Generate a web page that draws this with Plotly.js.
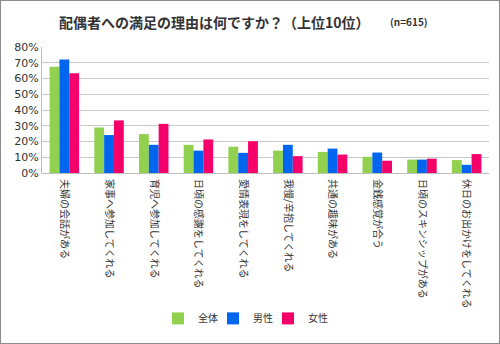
<!DOCTYPE html>
<html><head><meta charset="utf-8">
<script src="https://cdn.plot.ly/plotly-3.0.1.min.js"></script>
<style>
html,body{margin:0;padding:0;background:#fff;}
#wrap{position:relative;width:500px;height:344px;}
#chart{width:500px;height:344px;}
#frame{position:absolute;left:0;top:0;width:498px;height:342px;border:1px solid #8c8c8c;pointer-events:none;}
</style></head>
<body><div id="wrap"><div id="chart"></div><div id="frame"></div></div>
<script>
const categories = ["夫婦の会話がある","家事へ参加してくれる","育児へ参加してくれる","日頃の感謝をしてくれる","愛情表現をしてくれる","我慢/辛抱してくれる","共通の趣味がある","金銭感覚が合う","日頃のスキンシップがある","休日のお出かけをしてくれる"];
const seriesNames = ["全体","男性","女性"];
const allValues = [67.4,28.9,24.7,17.9,16.7,14.2,13.4,10.3,8.5,8.2];
const maleValues = [72.0,24.1,17.9,14.2,12.8,17.9,15.5,13.0,8.5,5.2];
const femaleValues = [63.3,33.4,31.2,21.3,20.2,10.7,11.7,7.8,9.1,12.0];
const yTickVals = [0,10,20,30,40,50,60,70,80];
const yTickText = yTickVals.map(v => v + "%");
const colors = ["#92D050","#0066F0","#F5006A"];
const font = "Noto Sans CJK JP, sans-serif";
const legendIds = ["legend","legend2","legend3"];
const data = [allValues, maleValues, femaleValues].map((vals,i)=>({
  type:"bar", x:categories, y:vals, name:seriesNames[i],
  marker:{color:colors[i]}, legend:legendIds[i]
}));
const pw = 500-42-11, ph = 344-47-167;
const legendPx = [158, 213, 268];
const layout = {
  width:500, height:344,
  margin:{l:42,r:11,t:47,b:167},
  paper_bgcolor:"#fff", plot_bgcolor:"#fff",
  barmode:"group", bargap:0.34, bargroupgap:0,
  font:{family:font,color:"#333",size:10},
  showlegend:true,
  annotations:[
    {text:"<b>配偶者への満足の理由は何ですか？（上位10位）</b>",xref:"paper",yref:"paper",
     x:214,xanchor:"center",y:21,yanchor:"middle",showarrow:false,
     font:{size:14,family:font,color:"#333"}},
    {text:"<b>(n=615)</b>",xref:"paper",yref:"paper",x:409,xanchor:"center",y:21,yanchor:"middle",
     showarrow:false,font:{size:10,family:font,color:"#333"}}
  ],
  xaxis:{type:"category",tickangle:90,tickfont:{size:10,family:font,color:"#333"},
    showline:true,linecolor:"#bfbfbf",linewidth:1,ticks:"",showgrid:false,automargin:false,
    ticklabelstandoff:3},
  yaxis:{range:[0,80],tickvals:yTickVals,ticktext:yTickText,
    tickfont:{size:11,family:"Verdana, DejaVu Sans, sans-serif",color:"#333"},
    showgrid:true,gridcolor:"#c8c8c8",gridwidth:1,showline:true,linecolor:"#bfbfbf",
    zeroline:false,ticks:"",automargin:false}
};
legendIds.forEach((id,i)=>{
  layout[id] = {orientation:"h",x:(legendPx[i]-42)/pw,xanchor:"left",y:(177-327)/ph,yanchor:"middle",
    font:{size:10,family:font,color:"#333"},itemwidth:30,bgcolor:"rgba(0,0,0,0)"};
});
layout.annotations.forEach(a=>{ a.x = (a.x-42)/pw; a.y = (344-167-a.y)/ph; });
Plotly.newPlot("chart", data, layout, {displayModeBar:false,staticPlot:true});
</script></body></html>
